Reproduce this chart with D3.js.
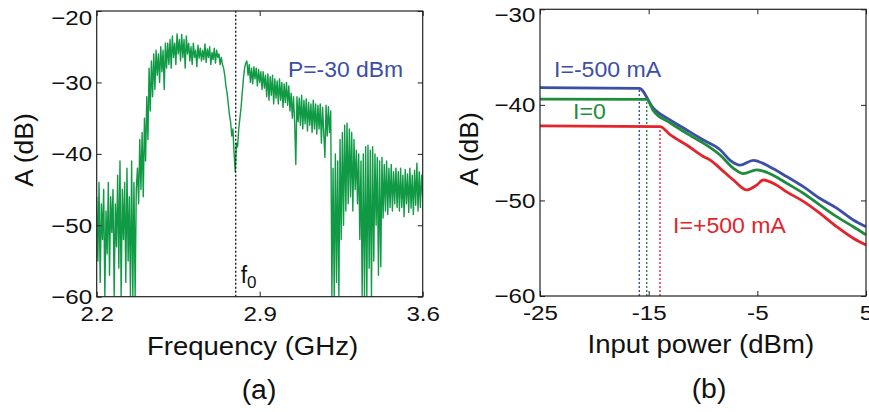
<!DOCTYPE html>
<html>
<head>
<meta charset="utf-8">
<script src="https://cdn.jsdelivr.net/npm/d3@7"></script>
<style>
  body { margin: 0; background: white; }
  svg text { font-family: "Liberation Sans", Arial, Helvetica, sans-serif; }
</style>
</head>
<body>
<div id="chart"></div>
<script>
// ---- panel (a): spectrum at P = -30 dBm, sampled every 5 MHz from 2.2 GHz ----
const freqStart = 2.2, freqStep = 0.005;
const spectrumA = [
  -46,-55,-44,-58,-47,-52,-45,-60,-48,-54,
  -44,-57,-46,-51,-45,-60,-47,-53,-43,-56,
  -41,-60,-45,-52,-44,-58,-42,-55,-46,-60,
  -41,-60,-44,-60,-45,
  -42,-47,-38,-45,-37,-46,-35,-41,-32,-38,-28,-34,
  -27,-32,-26,-31,-25.5,-29,-26,-30,-25,-28.5,-25.5,-31,-24.5,-28,
  -24.5,-27.5,-24,-28,-23.5,-26.5,-24.5,-27.5,-23.2,-26,
  -24,-27,-23.3,-26.5,-24,-28,-23.5,-26,-24.5,-27,
  -25,-27.5,-24.5,-26.5,-25.5,-27.8,-24.8,-26.6,-25.2,-27,
  -25.5,-26.8,-24.6,-27.2,-25.3,-26.5,-25,-27.5,-25.8,-26.8,
  -25.2,-27.3,-25.5,-26.5,-26,-27.5,
  -26.5,-27.5,-28,-29,-30.5,-31.5,-33,-34.5,-35.5,-37.5,-36.5,-40,-42.5,-38.5,-39,-36.5,-35,-33.5,-31.5,-29.5,-28,
  -27.3,-27,-29,-27.5,-30,-28,-30.2,-27.8,-29.5,-28,-30.5,-28.2,-30,-28.5,-31,-28.5,-30.8,
  -29,-32,-28.8,-32.5,-29.2,-31.8,-29,-33,-29.5,-32.2,-29.8,-33,-29.5,-32.5,-30,-33.5,-30.2,-32.8,-30,-33.2,-30.5,
  -34,-31.5,-35,-32,-35.5,-41.5,-32,-35.5,-32.2,-36,
  -31.8,-36.5,-32.5,-35.8,-32.3,-36.8,-32.8,-36,-33,-37,
  -32.5,-36.5,-33,-37.2,-33.2,-36.5,-33,-38.5,-33.5,-37,
  -40.5,-33.2,-37.5,-33.4,-37,-34,
  -60,-42,-60,-40,-58,-41,-60,-38,-52,-37,-50,-36,-48,-35.7,-47,-36.5,-46,-37,-48,-38,-45,-39.5,-47,-40,-52,-41,-60,-40,
  -60,-39,-60,-38.8,-56,-39.5,-60,-39,-55,-40,-50,-40.5,-57,-41,-55.8,-40.5,-49,-41.5,-48,-41,-48.5,-42,-47.5,-41.5,-48,-42.5,-47,-42,
  -47.5,-42.5,-48,-42,-47.5,-43,-48.8,-42.2,-47,-42.8,-48.2,-42,-47.6,-43,-48.5,-42.3,-47.2,-41.3,-48,-42.5,-47.5,-43,-46
];
const f0 = 2.797;
const freqTicks = [2.2, 2.9, 3.6];
const ampTicksA = [-20, -30, -40, -50, -60];

// ---- panel (b): transmission vs input power for three bias currents ----
const powerBlue = [-25, -15.86, -14.57, -13.0, -11.5, -9.97, -8.43, -7.5, -6.6, -5.37, -3.84, -2.3, -0.77, 0.77, 2.3, 3.83, 5];
const ampBlue   = [-38.2, -38.27, -40.36, -41.6, -42.63, -43.68, -44.7, -45.8, -46.3, -45.8, -46.5, -47.5, -48.56, -49.8, -50.8, -52.05, -52.75];
const powerGreen = [-25, -15.18, -14.57, -13.0, -11.5, -9.97, -8.43, -7.2, -6.3, -5.06, -3.84, -2.3, -0.77, 0.77, 2.3, 3.83, 5];
const ampGreen   = [-39.4, -39.42, -40.6, -41.9, -42.98, -44.0, -45.25, -46.64, -47.2, -46.8, -47.2, -48.2, -49.25, -50.5, -51.7, -52.75, -53.6];
const powerRed = [-25, -13.96, -13.0, -11.5, -9.97, -9.3, -8.43, -7.2, -5.98, -5.06, -4.45, -3.23, -2.3, -0.77, 0.77, 2.3, 3.83, 5];
const ampRed   = [-42.2, -42.28, -43.15, -44.2, -45.4, -45.8, -46.64, -47.86, -48.9, -48.4, -47.86, -48.4, -49.1, -50.1, -51.35, -52.75, -53.96, -54.66];
const powerTicks = [-25, -15, -5, 5];
const ampTicksB = [-30, -40, -50, -60];

const blue = "#3d4ea6", green = "#1e8c3c", red = "#e5232a", greenA = "#109a45";

let width = 869, height = 412;

let svg = d3.select("#chart")
    .append("svg")
    .attr("width", width)
    .attr("height", height)
    .style("background", "white");

// text helper, glyphs are a bit wider than Arial in the source
function label(x, y, txt, size, anchor, color, sx, rot) {
  let t = svg.append("text")
      .attr("transform", `translate(${x},${y}) scale(${sx},1)` + (rot ? ` rotate(${rot})` : ""))
      .attr("text-anchor", anchor)
      .attr("font-size", size)
      .attr("fill", color)
      .text(txt);
  return t;
}

function drawFrame(g, xScale, yScale, xTicks, yTicks, xFmt) {
  let [x0, x1] = xScale.range();
  let [y0, y1] = yScale.range();

  g.append("g").attr("transform", `translate(0,${y0})`)
    .call(d3.axisBottom(xScale).tickValues(xTicks).tickSize(-5).tickPadding(9).tickFormat(xFmt))
    .call(a => a.select(".domain").remove());
  g.append("g").attr("transform", `translate(0,${y1})`)
    .call(d3.axisTop(xScale).tickValues(xTicks).tickSize(-5).tickFormat(""))
    .call(a => a.select(".domain").remove());
  g.append("g").attr("transform", `translate(${x0},0)`)
    .call(d3.axisLeft(yScale).tickValues(yTicks).tickSize(-5).tickPadding(4))
    .call(a => a.select(".domain").remove());
  g.append("g").attr("transform", `translate(${x1},0)`)
    .call(d3.axisRight(yScale).tickValues(yTicks).tickSize(-5).tickFormat(""))
    .call(a => a.select(".domain").remove());

  g.selectAll(".tick line").attr("stroke", "#222");
  g.selectAll(".tick text")
    .attr("font-size", 21)
    .attr("fill", "#111")
    .attr("transform", "scale(1.15,1)");

  g.append("rect")
    .attr("x", x0).attr("y", y1)
    .attr("width", x1 - x0).attr("height", y0 - y1)
    .attr("fill", "none")
    .attr("stroke", "#222")
    .attr("stroke-width", 1.2);
}

// ================= panel (a) =================
let xA = d3.scaleLinear().domain([2.2, 3.6]).range([96.7, 422.7]);
let yA = d3.scaleLinear().domain([-60, -20]).range([296.7, 11]);

svg.append("clipPath").attr("id", "clipA")
  .append("rect").attr("x", 96.7).attr("y", 11).attr("width", 326).attr("height", 285.7);

let spectrum = spectrumA.map((a, i) => ({ f: freqStart + i * freqStep, a: a }));

let lineA = d3.line().x(d => xA(d.f)).y(d => yA(d.a));

let gA = svg.append("g");

gA.append("path")
  .datum(spectrum)
  .attr("d", lineA)
  .attr("clip-path", "url(#clipA)")
  .attr("fill", "none")
  .attr("stroke", greenA)
  .attr("stroke-width", 1.4)
  .attr("stroke-linejoin", "round");

gA.append("line")
  .attr("x1", xA(f0)).attr("x2", xA(f0))
  .attr("y1", yA(-60)).attr("y2", yA(-20))
  .attr("stroke", "#111")
  .attr("stroke-width", 1.3)
  .attr("stroke-dasharray", "2,2");

drawFrame(gA, xA, yA, freqTicks, ampTicksA, d3.format(".1f"));

// ================= panel (b) =================
let xB = d3.scaleLinear().domain([-25, 5]).range([540, 866]);
let yB = d3.scaleLinear().domain([-60, -30]).range([296, 9.3]);

let gB = svg.append("g");

let seriesB = [
  { p: powerBlue, a: ampBlue, color: blue },
  { p: powerGreen, a: ampGreen, color: green },
  { p: powerRed, a: ampRed, color: red }
];

let lineB = d3.line().x(d => xB(d[0])).y(d => yB(d[1])).curve(d3.curveMonotoneX);

// dotted drop lines at the saturation knee
seriesB.forEach(s => {
  gB.append("line")
    .attr("x1", xB(s.p[1])).attr("x2", xB(s.p[1]))
    .attr("y1", yB(-60)).attr("y2", yB(s.a[1]))
    .attr("stroke", s.color)
    .attr("stroke-width", 1.4)
    .attr("stroke-dasharray", "2,2");
});

seriesB.forEach(s => {
  gB.append("path")
    .datum(s.p.map((p, i) => [p, s.a[i]]))
    .attr("d", lineB)
    .attr("fill", "none")
    .attr("stroke", s.color)
    .attr("stroke-width", 2.8)
    .attr("stroke-linejoin", "round");
});

drawFrame(gB, xB, yB, powerTicks, ampTicksB, d => String(d));

// top tick labels sit a little below the box corner
gA.selectAll("g .tick text").filter(d => d === -20).attr("dy", "0.65em");
gB.selectAll("g .tick text").filter(d => d === -30).attr("dy", "0.6em");

// ================= labels =================
label(252.5, 355, "Frequency (GHz)", 26.5, "middle", "#111", 1.04);
label(700.8, 353, "Input power (dBm)", 26.5, "middle", "#111", 1.04);
label(33, 150, "A (dB)", 26.5, "middle", "#111", 1.0, -90);
label(478, 149, "A (dB)", 26.5, "middle", "#111", 1.0, -90);
label(259, 399, "(a)", 27, "middle", "#111", 1.05);
label(709, 398, "(b)", 27, "middle", "#111", 1.05);

label(288, 77, "P=-30 dBm", 22, "start", blue, 1.04);
label(554, 77, "I=-500 mA", 22, "start", blue, 1.05);
label(573, 119, "I=0", 22, "start", green, 1.05);
label(673, 233, "I=+500 mA", 22, "start", red, 1.05);

let f0Label = label(240.7, 283, "f", 23, "start", "#111", 1.0);
f0Label.append("tspan").attr("dy", 5).attr("font-size", 17).text("0");
</script>
</body>
</html>
